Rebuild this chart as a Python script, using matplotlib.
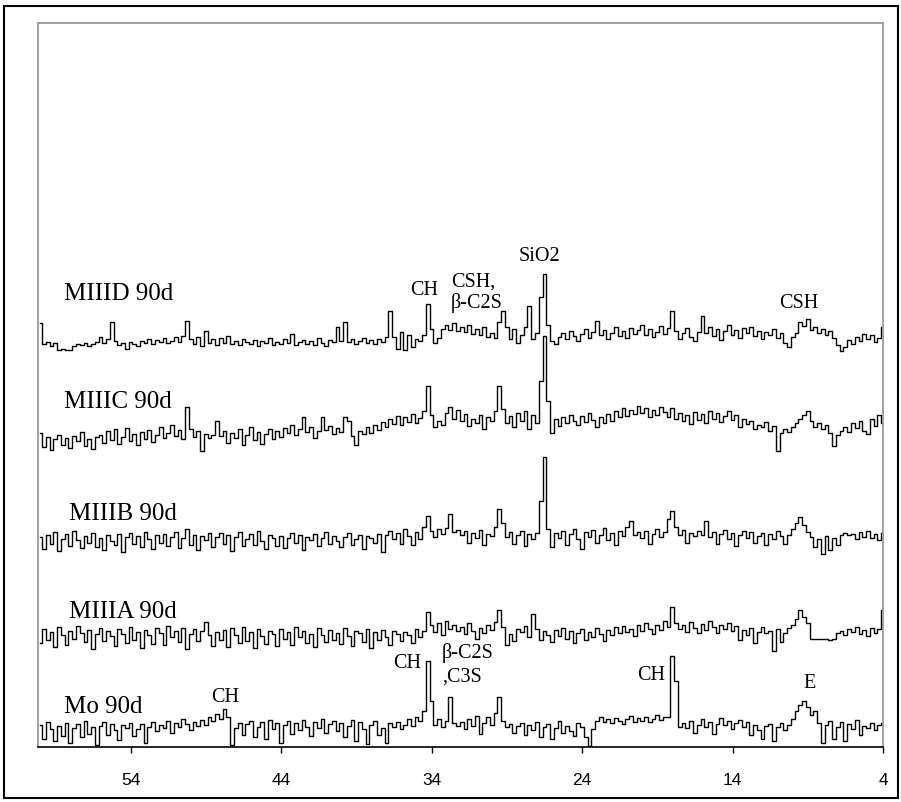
import numpy as np
import matplotlib
matplotlib.use("Agg")
import matplotlib.pyplot as plt
from matplotlib.patches import Rectangle

# 2-theta scan, 60 -> 4 deg, 0.25 deg step
two_theta = np.linspace(60.0, 4.0, 225)

# intensities (arb. units) above each pattern's own base level
miiid = [
    24, 3, 5, 1, 4, -3, -2, -3, -3, 1, 3, 2, 4, 1, 3, 5,
    10, 4, 8, 25, 6, 2, 4, -2, 5, 3, 1, 6, 4, 8, 3, 7,
    5, 9, 4, 6, 10, 5, 11, 26, 8, 3, 10, 1, 16, 4, 8, 2,
    9, 4, 11, 3, 6, 2, 8, 5, 3, 7, 1, 6, 4, 9, 2, 5,
    3, 8, 4, 13, 2, 5, 7, 3, 6, 2, 9, 4, 1, 7, 5, 20,
    6, 25, 5, 8, 3, 6, 9, 4, 7, 3, 8, 5, 10, 36, 10, -2,
    15, -3, 12, 0, 8, 6, 12, 43, 18, 4, 9, 18, 22, 17, 24, 16,
    20, 15, 22, 13, 18, 12, 20, 10, 14, 9, 25, 36, 20, 8, 18, 4,
    12, 20, 41, 8, 14, 50, 73, 22, 6, 3, 10, 14, 8, 16, 11, 6,
    13, 18, 9, 15, 26, 12, 17, 8, 14, 20, 11, 16, 9, 19, 13, 17,
    22, 12, 18, 10, 15, 21, 13, 19, 36, 16, 8, 14, 19, 10, 6, 15,
    31, 14, 20, 11, 18, 7, 16, 22, 12, 17, 9, 19, 14, 20, 11, 16,
    8, 15, 12, 18, 9, 14, 4, 0, 10, 14, 25, 21, 28, 17, 20, 14,
    18, 12, 16, 9, 2, -4, 0, 7, 3, 10, 6, 13, 8, 12, 5, 9,
    20,
]
miiic = [
    8, -6, 4, -9, 2, 6, -4, 3, -7, 5, 0, 9, -5, 2, -8, 4,
    6, -2, 10, 1, 12, -3, 4, 13, 0, 7, -4, 9, 2, 11, -1, 6,
    14, 3, 8, 16, 5, 11, 2, 34, 12, 4, 10, -10, 7, 3, 6, 20,
    5, 10, -2, 8, 3, 12, -4, 6, 14, 1, 9, -3, 7, 12, 2, 10,
    4, 13, 8, 16, 6, 12, 24, 9, 14, 3, 10, 24, 11, 15, 7, 13,
    9, 24, 20, 5, -4, 10, 7, 14, 8, 16, 11, 19, 14, 22, 17, 25,
    16, 24, 19, 27, 18, 23, 30, 55, 26, 14, 20, 16, 28, 34, 22, 31,
    20, 27, 15, 22, 18, 26, 12, 24, 20, 30, 55, 32, 18, 25, 14, 28,
    20, 30, 12, 26, 18, 60, 105, 40, 8, 22, 15, 24, 18, 26, 20, 16,
    25, 19, 28, 21, 14, 24, 18, 27, 20, 30, 24, 33, 25, 31, 27, 35,
    28, 33, 24, 31, 26, 34, 29, 24, 33, 22, 28, 20, 26, 17, 29, 21,
    27, 18, 30, 22, 28, 19, 25, 30, 21, 26, 14, 22, 17, 20, 12, 16,
    14, 19, 10, 15, -10, 8, 12, 9, 14, 18, 22, 26, 30, 20, 14, 18,
    12, 16, 8, -5, 6, 10, 14, 9, 18, 13, 20, 10, 7, 22, 15, 26,
    18,
]
miiib = [
    4, -8, 6, -3, 9, -10, 2, 7, -5, 10, 1, -7, 5, -2, 8, -6,
    3, -9, 6, 0, -4, 7, -11, 4, 8, -3, 5, -6, 9, 2, -8, 6,
    -2, 7, -5, 4, 9, -7, 3, 12, -4, 6, -9, 5, 1, 8, -6, 4,
    8, -3, 6, -10, 4, 9, -5, 2, 7, -4, 10, 0, -8, 6, 3, -5,
    5, -7, 3, 8, -2, 6, -9, 4, 1, 7, -5, 3, 9, -3, 5, 0,
    -6, 4, 8, -4, 2, 6, -8, 5, 3, -2, 7, -11, 6, 10, 2, 8,
    -3, 12, 5, -4, 9, 2, 14, 25, 10, 4, 12, 7, 13, 27, 9, 11,
    6, 10, -2, 8, 3, 11, -4, 7, 5, 14, 32, 18, 4, 9, -3, 6,
    10, -5, 7, 2, 8, 40, 84, 12, -6, 8, 3, 10, -4, 7, 12, 2,
    -8, 9, 4, 11, -2, 6, 13, 1, 8, -4, 10, 5, 14, 20, 6, 9,
    3, 10, -3, 7, 12, 4, 9, 22, 30, 14, 6, 11, -2, 8, 5, 10,
    6, 20, 4, 9, -3, 7, 11, 2, 8, -5, 6, 10, 3, 9, -2, 5,
    8, -4, 7, 2, 10, 5, -3, 6, 12, 18, 24, 16, 9, 4, -6, 2,
    -13, 5, -9, 3, -4, 6, 8, 6, 7, 2, 9, 4, 10, 3, 7, 1,
    8,
]
miiia = [
    -6, 8, -3, 5, -10, 10, 2, -8, 6, -2, 11, 4, -5, 7, -12, 3,
    9, -4, 6, 1, -9, 8, 3, -6, 10, -3, 5, -11, 7, 2, -7, 9,
    4, -8, 11, 0, 6, -5, 9, -12, 3, 8, -4, 6, 15, 2, -9, 5,
    -3, 7, -10, 9, 2, -6, 10, -4, 5, -11, 8, 1, -7, 6, 3, -9,
    8, -2, 5, -8, 10, 0, 6, -6, 3, -10, 9, 2, -5, 7, -3, 4,
    -7, 9, 1, -9, 6, 4, -5, 8, -11, 5, -3, 7, 0, -8, 6, 3,
    -4, 5, 2, -6, 8, 0, 6, 25, 12, 5, 14, 2, 16, 8, 12, 6,
    10, 3, 14, 6, -2, 9, 4, 12, 7, 15, 27, 10, -8, 3, -4, 8,
    5, 11, 0, 23, 8, -3, 6, 2, -5, 7, 1, 9, -2, 6, -6, 4,
    8, -3, 5, 0, 9, 3, -4, 7, 2, 10, 4, 11, 5, 8, 1, 12,
    6, 14, 8, 3, 12, 7, 16, 10, 30, 14, 8, 12, 5, 15, 9, 4,
    13, 7, 16, 10, 4, 12, 8, 14, 6, 11, -3, 7, 2, 9, -6, 5,
    10, 4, 6, -14, 8, -5, 4, 9, 12, 18, 27, 20, 14, -2, -2, -2,
    -2, -2, -3, -2, 4, 6, 2, 8, 5, 10, 3, 7, 1, 9, 4, 8,
    27,
]
mo = [
    6, -8, 9, 2, -10, 5, -5, 8, -12, 3, 7, -6, 10, -3, 4, -14,
    5, 9, -4, 7, 1, -9, 6, 3, 8, -5, 2, 7, -12, 4, 9, 0,
    6, 3, 10, -2, 8, 4, 12, 7, 1, 9, 5, 11, 6, 14, 10, 17,
    12, 22, 14, -14, 3, 8, -4, 7, 10, -6, 4, 9, -8, 11, 2, 8,
    -12, 6, 10, -3, 8, 1, 11, 4, -5, 9, 3, 12, -2, 7, 10, 0,
    8, -6, 5, 11, -10, 9, 2, -13, 6, 10, -4, 3, -12, 8, 4, 9,
    2, 6, 12, 5, 14, 10, 20, 70, 30, 6, 12, 4, 10, 34, 8, 5,
    9, 2, 12, 5, 15, -3, 8, 14, 6, 18, 34, 10, 4, 7, -2, 5,
    8, -4, 6, 1, 9, -6, 4, 7, -8, 3, 10, -2, 5, 0, -5, 8,
    4, -6, -15, 2, 10, 14, 9, 12, 8, 13, 10, 7, 12, 15, 9, 13,
    10, 14, 9, 12, 16, 11, 14, 14, 75, 50, 4, 8, 3, 10, -2, 6,
    12, 4, 9, -3, 7, 13, 6, 10, 2, 8, 11, 4, 9, -4, 6, 1,
    -8, 5, 7, -10, 4, 8, 1, 6, 12, 20, 26, 30, 24, 16, 20, 8,
    -12, 6, 10, -8, 4, 9, -10, 7, 2, 11, -4, 5, 3, 8, 1, 6,
    8,
]

series = [miiid, miiic, miiib, miiia, mo]
names = ["MIIID 90d", "MIIIC 90d", "MIIIB 90d", "MIIIA 90d", "Mo 90d"]
offsets = [400, 306, 206, 110, 16]
name_pos = [(58.4, 448), (58.4, 340), (58.1, 228), (58.1, 130), (58.4, 35)]

# phase labels: (text, 2theta, height, ha)
peak_labels = [
    ("CH", 34.5, 453, "center"),
    ("CSH,", 32.7, 461, "left"),
    ("\u03b2-C2S", 32.7, 440, "left"),
    ("SiO2", 26.86, 487, "center"),
    ("CSH", 9.58, 440, "center"),
    ("CH", 47.7, 46, "center"),
    ("CH", 35.6, 80, "center"),
    ("\u03b2-C2S", 33.3, 90, "left"),
    (",C3S", 33.3, 66, "left"),
    ("CH", 19.4, 68, "center"),
    ("E", 8.85, 60, "center"),
]

ticks = [54, 44, 34, 24, 14, 4]

fig = plt.figure(figsize=(9.01, 8.03), dpi=100)
ax = fig.add_axes([38 / 901, 55 / 803, 845 / 901, 724 / 803])

for vals, off in zip(series, offsets):
    ax.plot(two_theta, np.asarray(vals) + off, color="black", lw=1.0,
            drawstyle="steps-mid")

serif = ["Liberation Serif", "DejaVu Serif"]
for name, (xp, yp) in zip(names, name_pos):
    ax.text(xp, yp, name, fontsize=18, family=serif, ha="left", va="baseline")
for txt, xp, yp, ha in peak_labels:
    ax.text(xp, yp, txt, fontsize=14.5, family=serif, ha=ha, va="baseline")

ax.set_xlim(60.15, 4)
ax.set_ylim(0, 724)
ax.set_xticks(ticks)
ax.set_xticklabels([str(t) for t in ticks], family="Liberation Sans", fontsize=12.5)
ax.set_yticks([])
ax.tick_params(axis="x", direction="out", length=4, width=1, pad=14)
for side in ["left", "top", "right"]:
    ax.spines[side].set_color("#9a9a9a")
    ax.spines[side].set_linewidth(1.3)
ax.spines["bottom"].set_color("black")
ax.spines["bottom"].set_linewidth(1.2)

fig.patches.append(Rectangle((4 / 901, 4 / 803), 894 / 901, 792 / 803,
                             transform=fig.transFigure, fill=False,
                             edgecolor="black", lw=1.5))

fig.savefig("out.png", dpi=100)
